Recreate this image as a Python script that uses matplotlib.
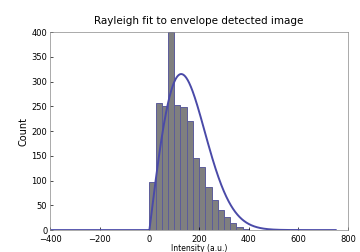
import matplotlib
matplotlib.use("Agg")
import matplotlib.pyplot as plt
import numpy as np

# histogram bins (left edges) and counts
bin_left = [0, 25, 50, 75, 100, 125, 150, 175, 200, 225, 250,
            275, 300, 325, 350, 375]
counts = [97, 256, 250, 400, 252, 248, 220, 145, 128, 88, 61,
          40, 27, 14, 6, 3]
bin_w = 25

# Rayleigh fit
sigma = 128.0
n_total = 2660

x = np.linspace(-400, 750, 800)
xp = np.clip(x, 0, None)
pdf = xp / sigma**2 * np.exp(-xp**2 / (2 * sigma**2))
fit = pdf * n_total * bin_w

fig = plt.figure(figsize=(3.6, 2.52), dpi=100)
ax = fig.add_axes([0.139, 0.087, 0.828, 0.786])

ax.bar(bin_left, counts, width=bin_w, align='edge', color='#7f7f7f',
       edgecolor='#5c5c9a', linewidth=0.7)
ax.plot(x, fit, color='#4a4aa8', linewidth=1.4)

ax.set_xlim(-400, 800)
ax.set_ylim(0, 400)
ax.set_xticks(np.arange(-400, 801, 200))
ax.set_yticks(np.arange(0, 401, 50))
ax.tick_params(direction='in', labelsize=6, length=2, width=0.5, pad=2)
ax.tick_params(axis='x', pad=3.5)
for s in ax.spines.values():
    s.set_linewidth(0.5)
    s.set_color('#888888')

ax.set_title('Rayleigh fit to envelope detected image', fontsize=7.5, pad=6)
ax.set_ylabel('Count', fontsize=7, labelpad=2)
ax.set_xlabel('Intensity (a.u.)', fontsize=5.5, labelpad=0)

fig.savefig('out.png', dpi=100)
